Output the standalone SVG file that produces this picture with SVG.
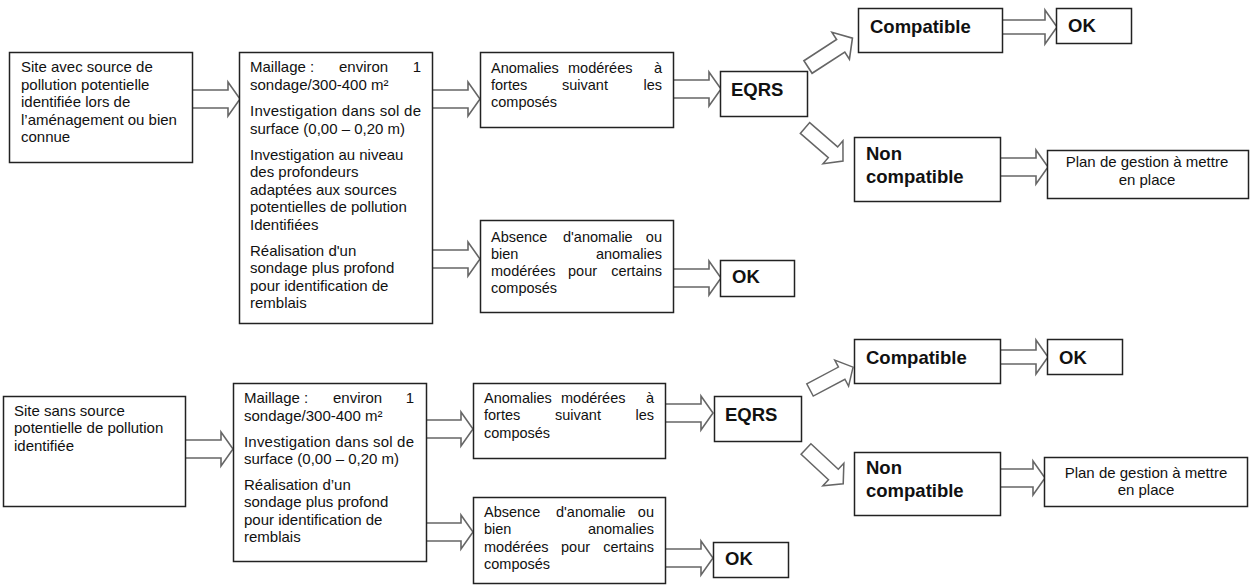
<svg xmlns="http://www.w3.org/2000/svg" width="1251" height="585" viewBox="0 0 1251 585">
<style>
.box{fill:#fff;stroke:#222;stroke-width:1.5}
.arr{fill:#fff;stroke:#666;stroke-width:1.6;stroke-linejoin:miter}
.t{font-family:"Liberation Sans",Arial,sans-serif;font-size:15px;fill:#111}
.s{font-size:14.5px}
.b{font-family:"Liberation Sans",Arial,sans-serif;font-size:18.5px;font-weight:bold;fill:#111}
.e{text-anchor:end}
.c{text-anchor:middle}
</style>
<defs>
<polygon id="darr" points="0,-7.5 39,-7.5 39,-16 53,0 39,16 39,7.5 0,7.5"/>
</defs>
<rect width="1251" height="585" fill="#fff"/>
<g id="connectors">
<polygon class="arr" points="192,90 228,90 228,82 240,99 228,116 228,108 192,108"/>
<polygon class="arr" points="432,90 468,90 468,82 480,99 468,116 468,108 432,108"/>
<polygon class="arr" points="432,250 468,250 468,242 480,259 468,276 468,268 432,268"/>
<polygon class="arr" points="673,80 709,80 709,72 721,89 709,106 709,98 673,98"/>
<polygon class="arr" points="673,269 709,269 709,261 721,278 709,295 709,287 673,287"/>
<polygon class="arr" points="1002,20 1045,20 1045,10 1057,27 1045,44 1045,34 1002,34"/>
<polygon class="arr" points="1000,158 1036,158 1036,150 1048,167 1036,184 1036,176 1000,176"/>
<use href="#darr" class="arr" transform="translate(808,67) rotate(-33)"/>
<use href="#darr" class="arr" transform="translate(805,128) rotate(41) scale(0.95)"/>
<polygon class="arr" points="185,440 221,440 221,432 233,449 221,466 221,458 185,458"/>
<polygon class="arr" points="426,420 461,420 461,412 473,429 461,446 461,438 426,438"/>
<polygon class="arr" points="426,523 461,523 461,515 473,532 461,549 461,541 426,541"/>
<polygon class="arr" points="665,404 701,404 701,396 713,413 701,430 701,422 665,422"/>
<polygon class="arr" points="665,549 701,549 701,541 713,558 701,575 701,567 665,567"/>
<polygon class="arr" points="1000,350 1036,350 1036,340 1048,357 1036,374 1036,364 1000,364"/>
<polygon class="arr" points="1000,469 1033,469 1033,461 1045,478 1033,495 1033,487 1000,487"/>
<use href="#darr" class="arr" transform="translate(810,390) rotate(-28) scale(0.92)"/>
<use href="#darr" class="arr" transform="translate(806,449) rotate(43) scale(0.96)"/>
</g>
<g id="n1">
<rect class="box" x="9.5" y="52.5" width="183" height="110"/>
<text class="t" x="21" y="72">Site avec source de</text>
<text class="t" x="21" y="89.5">pollution potentielle</text>
<text class="t" x="21" y="107">identifiée lors de</text>
<text class="t" x="21" y="124.5">l’aménagement ou bien</text>
<text class="t" x="21" y="142">connue</text>
</g>
<g id="n2">
<rect class="box" x="239.5" y="52.5" width="193" height="271"/>
<text class="t" x="250" y="72">Maillage :</text>
<text class="t" x="339" y="72">environ</text>
<text class="t e" x="421" y="72">1</text>
<text class="t" x="250" y="89.5">sondage/300-400 m²</text>
<text class="t" x="250" y="116" textLength="171" lengthAdjust="spacing">Investigation dans sol de</text>
<text class="t" x="250" y="133.5">surface (0,00 – 0,20 m)</text>
<text class="t" x="250" y="159.5">Investigation au niveau</text>
<text class="t" x="250" y="177">des profondeurs</text>
<text class="t" x="250" y="194.5">adaptées aux sources</text>
<text class="t" x="250" y="212">potentielles de pollution</text>
<text class="t" x="250" y="229.5">Identifiées</text>
<text class="t" x="250" y="255.5">Réalisation d'un</text>
<text class="t" x="250" y="273">sondage plus profond</text>
<text class="t" x="250" y="290.5">pour identification de</text>
<text class="t" x="250" y="308">remblais</text>
</g>
<g id="n3">
<rect class="box" x="480.5" y="52.5" width="193" height="75"/>
<text class="t s" x="491" y="73">Anomalies</text>
<text class="t s" x="568" y="73">modérées</text>
<text class="t s e" x="662" y="73">à</text>
<text class="t s" x="491" y="90">fortes</text>
<text class="t s" x="562" y="90">suivant</text>
<text class="t s e" x="662" y="90">les</text>
<text class="t s" x="491" y="107">composés</text>
</g>
<g id="n4">
<rect class="box" x="720.5" y="71.5" width="87" height="45"/>
<text class="b" x="731" y="96">EQRS</text>
</g>
<g id="n5">
<rect class="box" x="480.5" y="220.5" width="193" height="92"/>
<text class="t s" x="491" y="242">Absence</text>
<text class="t s" x="563" y="242">d'anomalie</text>
<text class="t s e" x="662" y="242">ou</text>
<text class="t s" x="491" y="259">bien</text>
<text class="t s e" x="662" y="259">anomalies</text>
<text class="t s" x="491" y="276">modérées</text>
<text class="t s" x="568" y="276">pour</text>
<text class="t s e" x="662" y="276">certains</text>
<text class="t s" x="491" y="293">composés</text>
</g>
<g id="n6">
<rect class="box" x="720.5" y="260.5" width="74" height="36"/>
<text class="b" x="732" y="283">OK</text>
</g>
<g id="n7">
<rect class="box" x="858.5" y="8.5" width="144" height="44"/>
<text class="b" x="870" y="33">Compatible</text>
</g>
<g id="n8">
<rect class="box" x="1056.5" y="8.5" width="75" height="35"/>
<text class="b" x="1068" y="32">OK</text>
</g>
<g id="n9">
<rect class="box" x="854.5" y="137.5" width="146" height="64"/>
<text class="b" x="866" y="160">Non</text>
<text class="b" x="866" y="183">compatible</text>
</g>
<g id="n10">
<rect class="box" x="1047.5" y="150.5" width="201" height="48"/>
<text class="t c" x="1147" y="167">Plan de gestion à mettre</text>
<text class="t c" x="1147" y="185">en place</text>
</g>
<g id="m1">
<rect class="box" x="3.5" y="396.5" width="182" height="110"/>
<text class="t" x="14" y="415.5">Site sans source</text>
<text class="t" x="14" y="433">potentielle de pollution</text>
<text class="t" x="14" y="450.5">identifiée</text>
</g>
<g id="m2">
<rect class="box" x="233.5" y="383.5" width="193" height="178"/>
<text class="t" x="244" y="403">Maillage :</text>
<text class="t" x="333" y="403">environ</text>
<text class="t e" x="414" y="403">1</text>
<text class="t" x="244" y="420.5">sondage/300-400 m²</text>
<text class="t" x="244" y="446.5" textLength="170" lengthAdjust="spacing">Investigation dans sol de</text>
<text class="t" x="244" y="464">surface (0,00 – 0,20 m)</text>
<text class="t" x="244" y="489.5">Réalisation d’un</text>
<text class="t" x="244" y="507">sondage plus profond</text>
<text class="t" x="244" y="524.5">pour identification de</text>
<text class="t" x="244" y="542">remblais</text>
</g>
<g id="m3">
<rect class="box" x="473.5" y="383.5" width="192" height="75"/>
<text class="t s" x="484" y="402.5">Anomalies</text>
<text class="t s" x="561" y="402.5">modérées</text>
<text class="t s e" x="654" y="402.5">à</text>
<text class="t s" x="484" y="420">fortes</text>
<text class="t s" x="555" y="420">suivant</text>
<text class="t s e" x="654" y="420">les</text>
<text class="t s" x="484" y="437.5">composés</text>
</g>
<g id="m4">
<rect class="box" x="714.5" y="396.5" width="87" height="45"/>
<text class="b" x="725" y="421">EQRS</text>
</g>
<g id="m5">
<rect class="box" x="473.5" y="497.5" width="192" height="86"/>
<text class="t s" x="484" y="516.5">Absence</text>
<text class="t s" x="556" y="516.5">d'anomalie</text>
<text class="t s e" x="654" y="516.5">ou</text>
<text class="t s" x="484" y="534">bien</text>
<text class="t s e" x="654" y="534">anomalies</text>
<text class="t s" x="484" y="551.5">modérées</text>
<text class="t s" x="561" y="551.5">pour</text>
<text class="t s e" x="654" y="551.5">certains</text>
<text class="t s" x="484" y="569">composés</text>
</g>
<g id="m6">
<rect class="box" x="713.5" y="542.5" width="75" height="35"/>
<text class="b" x="725" y="565">OK</text>
</g>
<g id="m7">
<rect class="box" x="854.5" y="339.5" width="146" height="44"/>
<text class="b" x="866" y="364">Compatible</text>
</g>
<g id="m8">
<rect class="box" x="1047.5" y="339.5" width="75" height="35"/>
<text class="b" x="1059" y="364">OK</text>
</g>
<g id="m9">
<rect class="box" x="854.5" y="452.5" width="146" height="63"/>
<text class="b" x="866" y="474">Non</text>
<text class="b" x="866" y="497">compatible</text>
</g>
<g id="m10">
<rect class="box" x="1044.5" y="457.5" width="203" height="49"/>
<text class="t c" x="1146" y="478">Plan de gestion à mettre</text>
<text class="t c" x="1146" y="495">en place</text>
</g>
</svg>
